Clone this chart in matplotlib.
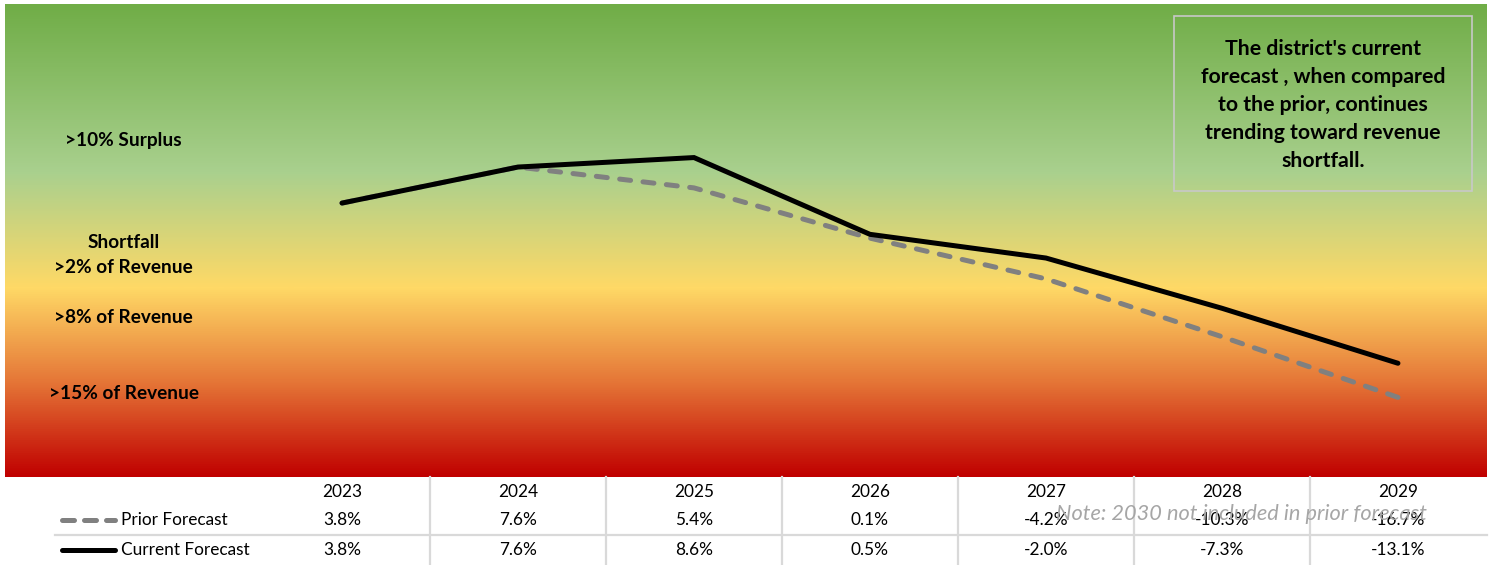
import matplotlib
matplotlib.use("Agg")
import matplotlib.pyplot as plt
import numpy as np
from matplotlib.colors import LinearSegmentedColormap
from matplotlib.transforms import blended_transform_factory
from matplotlib.lines import Line2D
from matplotlib.patches import Rectangle

plt.rcParams['font.family'] = ['Lato', 'DejaVu Sans']

years = [2023, 2024, 2025, 2026, 2027, 2028, 2029]
prior = [3.8, 7.6, 5.4, 0.1, -4.2, -10.3, -16.7]
current = [3.8, 7.6, 8.6, 0.5, -2.0, -7.3, -13.1]
series_names = ["Prior Forecast", "Current Forecast"]
zone_labels = [">10% Surplus", "Shortfall\n>2% of Revenue", ">8% of Revenue", ">15% of Revenue"]
zone_levels = [10.4, -1.7, -8.3, -16.3]
note = "Note: 2030 not included in prior forecast"
callout = "The district's current\nforecast , when compared\nto the prior, continues\ntrending toward revenue\nshortfall."

W, H = 1491, 565
fig = plt.figure(figsize=(W / 100, H / 100), dpi=100)
fig.patch.set_facecolor("white")

ax = fig.add_axes([5 / W, 1 - 477 / H, 1482 / W, 473 / H])
ax.set_xlim(2021.085, 2029.506)
ax.set_ylim(-25.1, 24.8)
ax.axis("off")

# gradient background
cmap = LinearSegmentedColormap.from_list(
    "zones",
    [(0.0, (112/255, 173/255, 71/255)),
     (0.355, (169/255, 208/255, 142/255)),
     (0.60, (255/255, 217/255, 102/255)),
     (0.80, (229/255, 118/255, 55/255)),
     (1.0, (192/255, 0/255, 0/255))])
grad = np.linspace(0, 1, 512).reshape(-1, 1)
ax.imshow(grad, cmap=cmap, aspect="auto", extent=[2021.085, 2029.506, -25.1, 24.8],
          origin="upper", zorder=0)

lw = 3.6
ax.plot(years, prior, color="#808080", lw=lw, dashes=(2.2, 2.5),
        dash_capstyle="round", solid_capstyle="round", zorder=2)
ax.plot(years, current, color="black", lw=lw, solid_capstyle="round",
        solid_joinstyle="miter", zorder=3)

# zone labels
for lab, lev in zip(zone_labels, zone_levels):
    ax.text(2021.76, lev, lab, ha="center", va="center", fontsize=13.7,
            fontweight="bold", color="black", linespacing=1.55, zorder=4)

# callout box
fig.patches.append(Rectangle((1174 / W, 1 - 191 / H), 298 / W, 175 / H,
                             transform=fig.transFigure, fill=False,
                             edgecolor="#c8c8c8", lw=1.2))
fig.text(1323 / W, 1 - 105 / H, callout, ha="center", va="center",
         fontsize=15.3, fontweight="bold", color="black", linespacing=1.5)

# table below
tr = blended_transform_factory(ax.transData, fig.transFigure)
row_y = [1 - 492 / H, 1 - 520 / H, 1 - 550 / H]
tfs = 12.4
for i, yr in enumerate(years):
    fig.text(yr, row_y[0], str(yr), transform=tr, ha="center", va="center", fontsize=tfs)
    fig.text(yr, row_y[1], f"{prior[i]:.1f}%", transform=tr, ha="center", va="center", fontsize=tfs)
    fig.text(yr, row_y[2], f"{current[i]:.1f}%", transform=tr, ha="center", va="center", fontsize=tfs)
for yr in years[:-1]:
    fig.add_artist(Line2D([yr + 0.5, yr + 0.5], [0, 1 - 477 / H], transform=tr,
                          color="#d9d9d9", lw=1.6))
fig.add_artist(Line2D([55 / W, 1487 / W], [1 - 535 / H, 1 - 535 / H],
                      transform=fig.transFigure, color="#d9d9d9", lw=1.6))

# legend keys
fig.add_artist(Line2D([62 / W, 115 / W], [row_y[1], row_y[1]], transform=fig.transFigure,
                      color="#808080", lw=3.6, dashes=(2.4, 2.0), dash_capstyle="round"))
fig.add_artist(Line2D([62 / W, 115 / W], [row_y[2], row_y[2]], transform=fig.transFigure,
                      color="black", lw=3.6, solid_capstyle="round"))
fig.text(121 / W, row_y[1], series_names[0], ha="left", va="center", fontsize=tfs)
fig.text(121 / W, row_y[2], series_names[1], ha="left", va="center", fontsize=tfs)

fig.text(1427 / W, 1 - 514 / H, note, ha="right", va="center", fontsize=15.7,
         style="italic", color="#a6a6a6")

fig.savefig("out.png", dpi=100)
